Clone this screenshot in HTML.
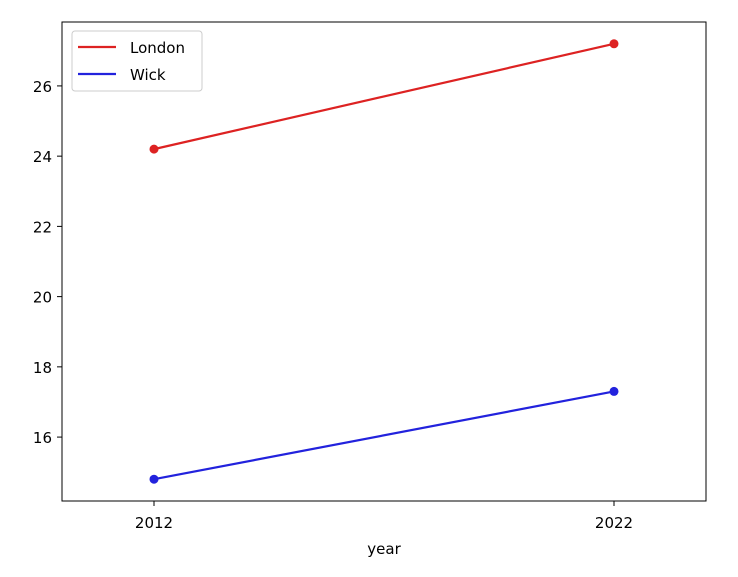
<!DOCTYPE html>
<html><head><meta charset="utf-8"><style>body{margin:0;background:#fff}svg{display:block;font-family:"DejaVu Sans","Liberation Sans",sans-serif}</style></head>
<body>
<svg id="c" width="738" height="577"></svg>
<script>
const years=[2012,2022];
const london=[24.2,27.2];
const wick=[14.8,17.3];
const yTicks=[16,18,20,22,24,26];
const ns="http://www.w3.org/2000/svg";
const svg=document.getElementById('c');
const L=62,R=706,T=22,B=501;
const x=v=>L+(v-2010)/14*(R-L);
const y=v=>B-(v-14.18)/(27.82-14.18)*(B-T);
function el(t,a,p){const e=document.createElementNS(ns,t);for(const k in a)e.setAttribute(k,a[k]);(p||svg).appendChild(e);return e;}
const frame=el('rect',{x:L,y:T,width:R-L,height:B-T,fill:'none',stroke:'#000','stroke-width':1});


yTicks.forEach(v=>{
  const tk=el('line',{x1:L-5,x2:L,y1:y(v),y2:y(v),stroke:'#000'});
  
  
  const t=el('text',{x:L-10,y:y(v)+6,'text-anchor':'end','font-size':15,fill:'#000'});t.textContent=v;
  
  
});
years.forEach(v=>{
  const tk=el('line',{x1:x(v),x2:x(v),y1:B,y2:B+5,stroke:'#000'});
  
  
  const t=el('text',{x:x(v),y:B+27,'text-anchor':'middle','font-size':15,fill:'#000'});t.textContent=v;
  
  
});
const xt=el('text',{x:(L+R)/2,y:554,'text-anchor':'middle','font-size':15,fill:'#000'});xt.textContent='year';


function series(vals,color,name){
  const p=el('polyline',{points:vals.map((v,i)=>x(years[i])+','+y(v)).join(' '),fill:'none',stroke:color,'stroke-width':2.2});
  
  
  vals.forEach((v,i)=>{
    const c=el('circle',{cx:x(years[i]),cy:y(v),r:4.5,fill:color});
    
    
  });
}
series(london,'#dd2222','london');
series(wick,'#2222dd','wick');
const lg=el('g',{});


el('rect',{x:72,y:31,width:130,height:60,rx:3,fill:'#fff',stroke:'#ccc'},lg);
[['London','#dd2222',47],['Wick','#2222dd',74]].forEach(([n,c,yy])=>{
  const g=el('g',{},lg);
  
  
  el('line',{x1:78,x2:116,y1:yy,y2:yy,stroke:c,'stroke-width':2.2},g);
  const t=el('text',{x:130,y:yy+6,'font-size':15,fill:'#000'},g);t.textContent=n;
});
</script>
</body></html>
